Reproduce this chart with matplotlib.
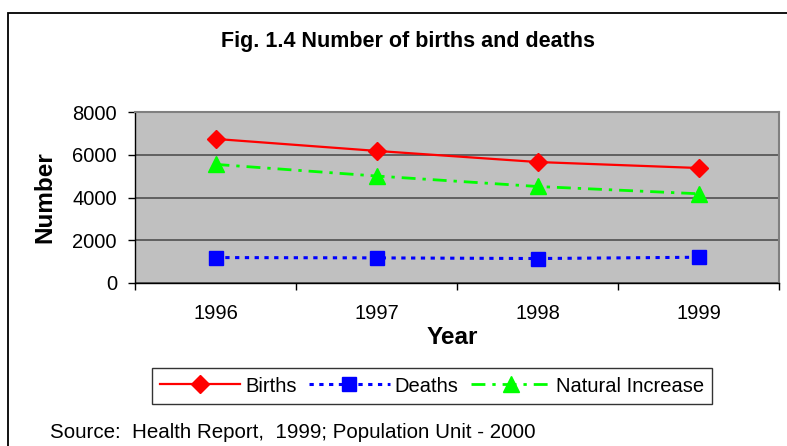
import matplotlib
matplotlib.use('Agg')
import matplotlib.pyplot as plt
from matplotlib.patches import Rectangle

plt.rcParams['font.family'] = ['Liberation Sans', 'DejaVu Sans']

years = ['1996', '1997', '1998', '1999']
births = [6740, 6180, 5660, 5380]
deaths = [1190, 1175, 1145, 1205]
natural_increase = [5550, 5005, 4515, 4175]

W, H = 787, 446
fig = plt.figure(figsize=(W / 100, H / 100), dpi=100)

# outer chart border (runs off the right and bottom edges)
fig.patches.append(Rectangle((8 / W, -0.1), 1.2, (H - 13) / H + 0.1,
                             transform=fig.transFigure, fill=False,
                             edgecolor='black', linewidth=1.3, clip_on=False))

ax = fig.add_axes([135 / W, 1 - 283 / H, (779 - 135) / W, (283 - 112) / H])
ax.set_facecolor('#c0c0c0')

x = range(1, len(years) + 1)
ax.plot(x, births, color='#ff0000', lw=1.6, marker='D', ms=9,
        label='Births', zorder=3)
ax.plot(x, deaths, color='#0000ff', lw=2.2, dashes=(1.4, 1.8), marker='s', ms=9.5,
        label='Deaths', zorder=3)
ax.plot(x, natural_increase, color='#00ff00', lw=2.0, dashes=(5, 2.5, 1.2, 2.5),
        marker='^', ms=11, label='Natural Increase', zorder=3)

ax.set_ylim(0, 8000)
ax.set_yticks(range(0, 8001, 2000))
ax.set_xlim(0.5, len(years) + 0.5)
ax.set_xticks([i + 0.5 for i in range(len(years) + 1)])
ax.set_xticklabels([])
ax.set_xticks(list(x), minor=True)
ax.set_xticklabels(years, minor=True)
ax.tick_params(axis='x', which='minor', length=0, pad=15, labelsize=14.5)
ax.tick_params(axis='x', which='major', length=5, width=1)
ax.tick_params(axis='y', length=5, width=1, pad=8, labelsize=14.5)

ax.grid(axis='y', color='#505050', lw=1.2, zorder=1)
ax.set_axisbelow(True)
for side in ['top', 'right']:
    ax.spines[side].set_color('#808080')
    ax.spines[side].set_linewidth(1.5)
for side in ['left', 'bottom']:
    ax.spines[side].set_color('black')
    ax.spines[side].set_linewidth(1.0)

fig.text(408 / W, 1 - 42 / H, 'Fig. 1.4 Number of births and deaths',
         ha='center', va='center', fontsize=15.5, fontweight='bold')
fig.text(45 / W, 1 - 197 / H, 'Number', rotation=90, ha='center', va='center',
         fontsize=17.5, fontweight='bold')
fig.text(452 / W, 1 - 338 / H, 'Year', ha='center', va='center',
         fontsize=17.5, fontweight='bold')

leg = fig.legend(loc='center', bbox_to_anchor=(432 / W, 1 - 386 / H), ncol=3,
                 fontsize=14.5, frameon=True, fancybox=False, handlelength=4.0,
                 handletextpad=0.25, columnspacing=0.6, borderpad=0.4)
leg.get_frame().set_edgecolor('black')
leg.get_frame().set_linewidth(1.0)

fig.text(50 / W, 1 - 432 / H, 'Source:  Health Report,  1999; Population Unit - 2000',
         ha='left', va='center', fontsize=14.8)

fig.savefig('out.png', dpi=100)
